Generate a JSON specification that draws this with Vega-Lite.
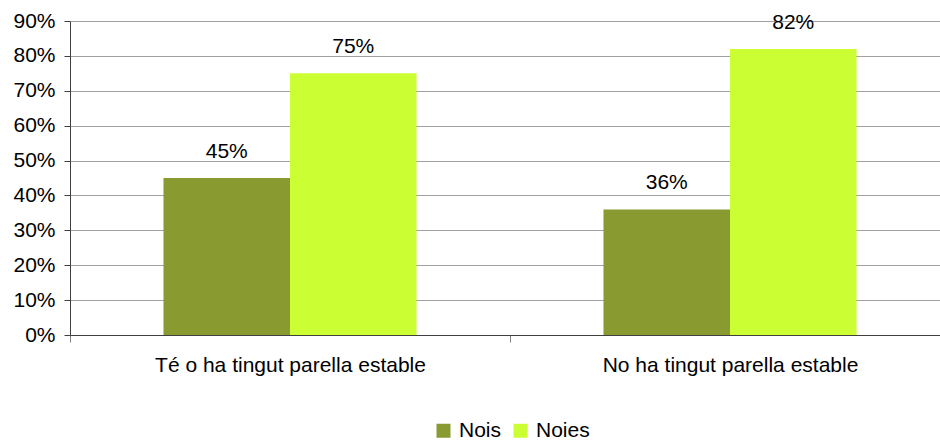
{
  "$schema": "https://vega.github.io/schema/vega-lite/v6.json",
  "autosize": "none",
  "width": 870,
  "height": 314,
  "padding": {"left": 70, "top": 21, "right": 0, "bottom": 108},
  "background": "white",
  "config": {
    "view": {"stroke": null},
    "font": "Liberation Sans",
    "axis": {"labelFont": "Liberation Sans", "labelFontSize": 21, "labelColor": "#000000"},
    "legend": {"labelFont": "Liberation Sans", "labelFontSize": 21, "labelColor": "#000000"}
  },
  "data": {
    "values": [
      {"categoria": "Té o ha tingut parella estable", "sexe": "Nois", "valor": 0.45},
      {"categoria": "Té o ha tingut parella estable", "sexe": "Noies", "valor": 0.75},
      {"categoria": "No ha tingut parella estable", "sexe": "Nois", "valor": 0.36},
      {"categoria": "No ha tingut parella estable", "sexe": "Noies", "valor": 0.82}
    ]
  },
  "encoding": {
    "x": {
      "field": "categoria",
      "type": "nominal",
      "sort": ["Té o ha tingut parella estable", "No ha tingut parella estable"],
      "scale": {"range": [0, 880], "paddingInner": 0, "paddingOuter": 0},
      "axis": {
        "title": null,
        "labelAngle": 0,
        "labelLimit": 500,
        "tickBand": "extent",
        "tickSize": 7,
        "tickColor": "#808080",
        "domainColor": "#404040",
        "labelPadding": 12,
        "grid": false
      }
    },
    "xOffset": {"field": "sexe", "type": "nominal", "sort": ["Nois", "Noies"], "scale": {"paddingInner": 0, "paddingOuter": 0.739}},
    "y": {
      "field": "valor",
      "type": "quantitative",
      "scale": {"domain": [0, 0.9], "nice": false},
      "axis": {
        "title": null,
        "format": ".0%",
        "values": [0, 0.1, 0.2, 0.3, 0.4, 0.5, 0.6, 0.7, 0.8, 0.9],
        "tickSize": 6,
        "tickColor": "#404040",
        "domainColor": "#404040",
        "gridColor": "#a0a0a0",
        "gridWidth": 1,
        "labelPadding": 9
      }
    }
  },
  "layer": [
    {
      "mark": {"type": "bar"},
      "encoding": {
        "color": {
          "field": "sexe",
          "type": "nominal",
          "sort": ["Nois", "Noies"],
          "scale": {"domain": ["Nois", "Noies"], "range": ["#889a30", "#ccff33"]},
          "legend": {
            "title": null,
            "orient": "none",
            "direction": "horizontal",
            "legendX": 363,
            "legendY": 399,
            "padding": 0,
            "symbolType": "square",
            "symbolSize": 196,
            "symbolStrokeWidth": 0,
            "labelOffset": 5,
            "columnPadding": 8
          }
        }
      }
    },
    {
      "mark": {"type": "text", "baseline": "alphabetic", "dy": -20, "fontSize": 21, "font": "Liberation Sans", "color": "#000000"},
      "encoding": {
        "text": {"field": "valor", "type": "quantitative", "format": ".0%"}
      }
    }
  ]
}
